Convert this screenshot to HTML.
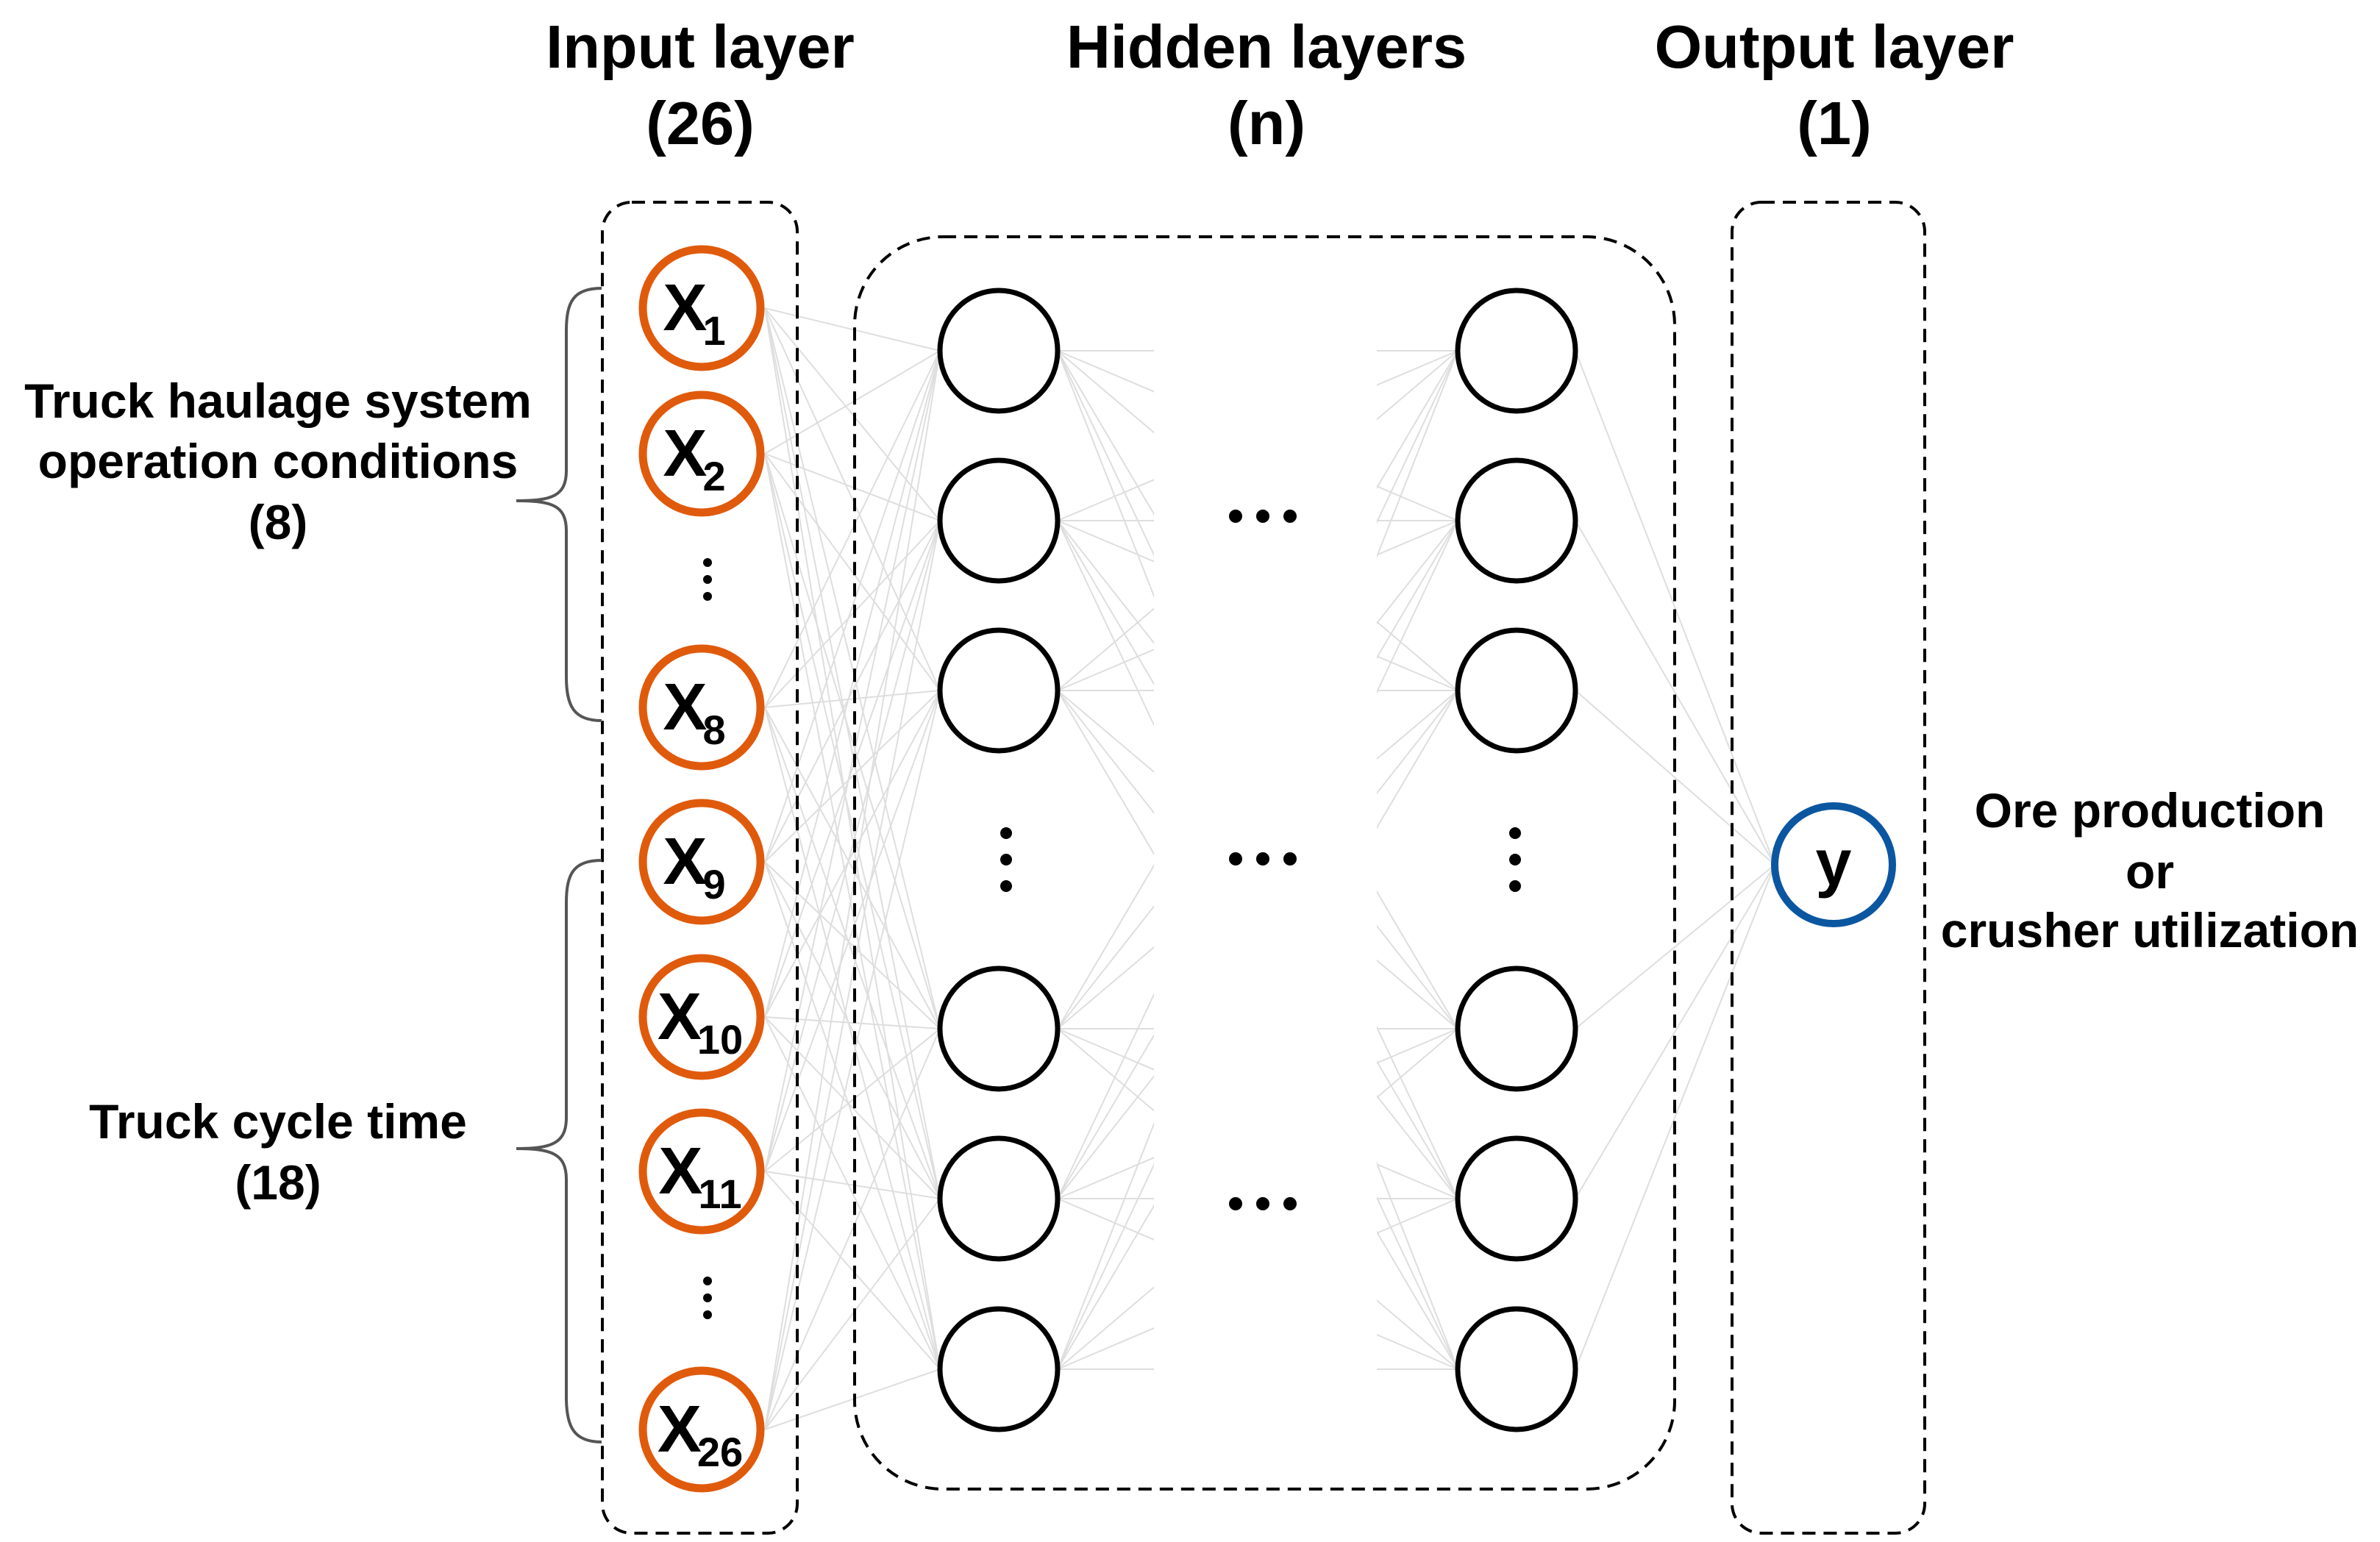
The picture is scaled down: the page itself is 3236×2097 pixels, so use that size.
<!DOCTYPE html>
<html><head><meta charset="utf-8">
<style>
html,body{margin:0;padding:0;background:#fff;}
svg{display:block;}
text{font-family:"Liberation Sans",Arial,sans-serif;font-weight:bold;fill:#000;}
</style></head>
<body>
<svg id="s" width="3236" height="2097" viewBox="0 0 3236 2097" xmlns="http://www.w3.org/2000/svg">
<defs>
<clipPath id="c1"><rect x="0" y="0" width="1569" height="2097"/><rect x="1872" y="0" width="1364" height="2097"/></clipPath>
</defs>
<g id="lines" stroke="#dedede" stroke-width="2" fill="none"></g>
<g id="lines2" stroke="#dedede" stroke-width="2" fill="none" clip-path="url(#c1)"></g>

<!-- titles -->
<g font-size="83" text-anchor="middle">
<text x="952" y="92">Input layer</text>
<text x="952" y="196">(26)</text>
<text x="1722" y="92">Hidden layers</text>
<text x="1722" y="196">(n)</text>
<text x="2494" y="92">Output layer</text>
<text x="2494" y="196">(1)</text>
</g>

<!-- dashed boxes -->
<g fill="none" stroke="#000" stroke-width="4" stroke-dasharray="18 11">
<rect x="819" y="275" width="265" height="1810" rx="40"/>
<rect x="1162" y="322" width="1115" height="1703" rx="120"/>
<rect x="2355" y="275" width="262" height="1810" rx="40"/>
</g>

<!-- braces -->
<g fill="none" stroke="#555" stroke-width="4">
<path d="M818 392 C780 392 770 410 770 450 L770 640 C770 675 750 681 702 681 C750 681 770 687 770 722 L770 920 C770 960 780 980 818 980"/>
<path d="M818 1170 C780 1170 770 1188 770 1228 L770 1520 C770 1555 750 1562 702 1562 C750 1562 770 1569 770 1604 L770 1900 C770 1940 780 1961 818 1961"/>
</g>

<!-- labels -->
<g font-size="66" text-anchor="middle">
<text x="378" y="568">Truck haulage system</text>
<text x="378" y="650">operation conditions</text>
<text x="378" y="733">(8)</text>
<text x="378" y="1548">Truck cycle time</text>
<text x="378" y="1631">(18)</text>
<text x="2923" y="1125">Ore production</text>
<text x="2923" y="1208">or</text>
<text x="2923" y="1288">crusher utilization</text>
</g>

<g id="nodes"></g>

<!-- dots -->
<g fill="#000">
<circle cx="962" cy="765" r="6"/><circle cx="962" cy="788" r="6"/><circle cx="962" cy="811" r="6"/>
<circle cx="962" cy="1742" r="6"/><circle cx="962" cy="1765" r="6"/><circle cx="962" cy="1788" r="6"/>
<circle cx="1368" cy="1133" r="8"/><circle cx="1368" cy="1169" r="8"/><circle cx="1368" cy="1205" r="8"/>
<circle cx="2060" cy="1133" r="8"/><circle cx="2060" cy="1169" r="8"/><circle cx="2060" cy="1205" r="8"/>
<g id="hd"></g>
</g>

<!-- output -->
<circle cx="2493" cy="1176" r="80" fill="#fff" stroke="#0b56a0" stroke-width="10"/>
<text x="2493" y="1203" font-size="88" text-anchor="middle">y</text>
</svg>
<script>
var NS="http://www.w3.org/2000/svg",s=document.getElementById('s');
function el(p,t,a){var e=document.createElementNS(NS,t);for(var k in a)e.setAttribute(k,a[k]);p.appendChild(e);return e;}
var inY=[419,617,962,1172,1383,1593,1944],inSub=['1','2','8','9','10','11','26'];
var hY=[477,708,939,1399,1630,1862],h1=1358,h2=2062,oX=2493,oY=1176;
var L=document.getElementById('lines'),L2=document.getElementById('lines2'),N=document.getElementById('nodes');
inY.forEach(function(y){hY.forEach(function(hy){el(L,'line',{x1:1040,y1:y,x2:h1-80,y2:hy});});});
hY.forEach(function(a){hY.forEach(function(b){el(L2,'line',{x1:h1+80,y1:a,x2:h2-80,y2:b});});});
hY.forEach(function(a){el(L,'line',{x1:h2+80,y1:a,x2:oX-80,y2:oY});});
inY.forEach(function(y,i){
 el(N,'circle',{cx:954,cy:y,r:80,fill:'#fff',stroke:'#e05a0c','stroke-width':11});
 var t=el(N,'text',{x:i>=4?952:944,y:y+30,'font-size':90,'text-anchor':'middle'});
 t.textContent='X';
 var sb=el(N,'tspan',{'font-size':56,dy:20,dx:-6});sb.textContent=inSub[i];t.appendChild(sb);
});
hY.forEach(function(y){
 el(N,'ellipse',{cx:h1,cy:y,rx:80,ry:82,fill:'#fff',stroke:'#000','stroke-width':7});
 el(N,'ellipse',{cx:h2,cy:y,rx:80,ry:82,fill:'#fff',stroke:'#000','stroke-width':7});
});
var HD=document.getElementById('hd');
[702,1168,1637].forEach(function(y){[1680,1717,1754].forEach(function(x){el(HD,'circle',{cx:x,cy:y,r:9});});});
</script>
</body></html>
